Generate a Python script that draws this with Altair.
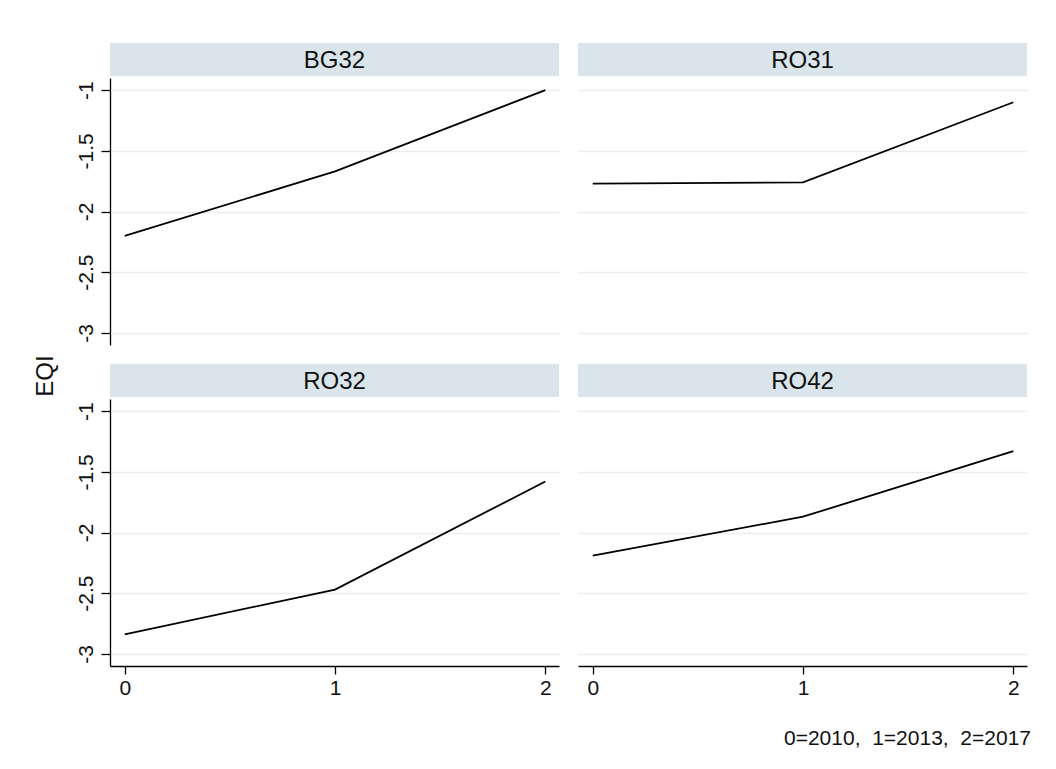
import altair as alt
import pandas as pd

regions = ["BG32", "RO31", "RO32", "RO42"]
period = [0, 1, 2]
eqi_BG32 = [-2.20, -1.67, -1.00]
eqi_RO31 = [-1.77, -1.76, -1.10]
eqi_RO32 = [-2.84, -2.47, -1.58]
eqi_RO42 = [-2.19, -1.87, -1.33]
series = {"BG32": eqi_BG32, "RO31": eqi_RO31, "RO32": eqi_RO32, "RO42": eqi_RO42}
y_ticks = [-3, -2.5, -2, -1.5, -1]
x_ticks = [0, 1, 2]
y_title = "EQI"
note = "0=2010,\u00a0 1=2013,\u00a0 2=2017"

FONT = "Liberation Sans"
STRIP = "#d9e5eb"
GRID = "#e6eef1"
W, H, HH = 449, 267, 33

def panel(region, show_y, show_x):
    df = pd.DataFrame({"period": period, "EQI": series[region], "region": region})
    header = alt.Chart(pd.DataFrame({"region": [region]})).mark_text(
        font=FONT, fontSize=24, color="#111111", baseline="middle", align="center"
    ).encode(
        text="region:N", x=alt.value(W / 2), y=alt.value(HH / 2 + 1)
    ).properties(width=W, height=HH, view=alt.ViewBackground(fill=STRIP, stroke=None))

    if show_y:
        yaxis = alt.Axis(values=y_ticks, title=None, grid=True, gridColor=GRID, gridWidth=1.5,
                         domainColor="black", domainWidth=1.3, tickColor="black", tickSize=9,
                         tickWidth=1.3, labelFont=FONT, labelFontSize=21, labelColor="#111111",
                         labelAngle=270, labelAlign="center", labelBaseline="bottom",
                         labelPadding=5, labelExpr="'' + datum.value")
    else:
        yaxis = alt.Axis(values=y_ticks, title=None, grid=True, gridColor=GRID, gridWidth=1.5,
                         labels=False, ticks=False, domain=False)
    if show_x:
        xaxis = alt.Axis(values=x_ticks, title=None, grid=False, format="d",
                         domainColor="black", domainWidth=1.3, tickColor="black", tickSize=8,
                         tickWidth=1.3, labelFont=FONT, labelFontSize=21, labelColor="#111111",
                         labelPadding=3)
    else:
        xaxis = None
    line = alt.Chart(df).mark_line(color="black", strokeWidth=1.8).encode(
        x=alt.X("period:Q", scale=alt.Scale(domain=[-0.07, 2.065], nice=False, zero=False), axis=xaxis),
        y=alt.Y("EQI:Q", scale=alt.Scale(domain=[-3.1, -0.9], nice=False, zero=False), axis=yaxis),
    ).properties(width=W, height=H, view=alt.ViewBackground(stroke=None))
    return alt.vconcat(header, line, spacing=2)

row1 = alt.hconcat(panel("BG32", True, False), panel("RO31", False, False), spacing=19)
row2 = alt.hconcat(panel("RO32", True, True), panel("RO42", False, True), spacing=19)
grid = alt.vconcat(row1, row2, spacing=19)

ytitle = alt.Chart(pd.DataFrame({"t": [y_title]})).mark_text(
    font=FONT, fontSize=24, color="#111111", angle=270, align="center", baseline="middle"
).encode(text="t:N", x=alt.value(15), y=alt.value(333)).properties(
    width=30, height=600, view=alt.ViewBackground(stroke=None))

chart = alt.hconcat(ytitle, grid, spacing=13).properties(
    padding={"left": 23, "top": 35, "right": 10, "bottom": 10},
    title=alt.TitleParams(note, orient="bottom", anchor="end", font=FONT, fontSize=21,
                          fontWeight="normal", color="#111111", offset=30, dx=4),
    background="white",
).configure_view(stroke=None)

chart.save("out.html", embed_options={"renderer": "svg", "actions": False})
